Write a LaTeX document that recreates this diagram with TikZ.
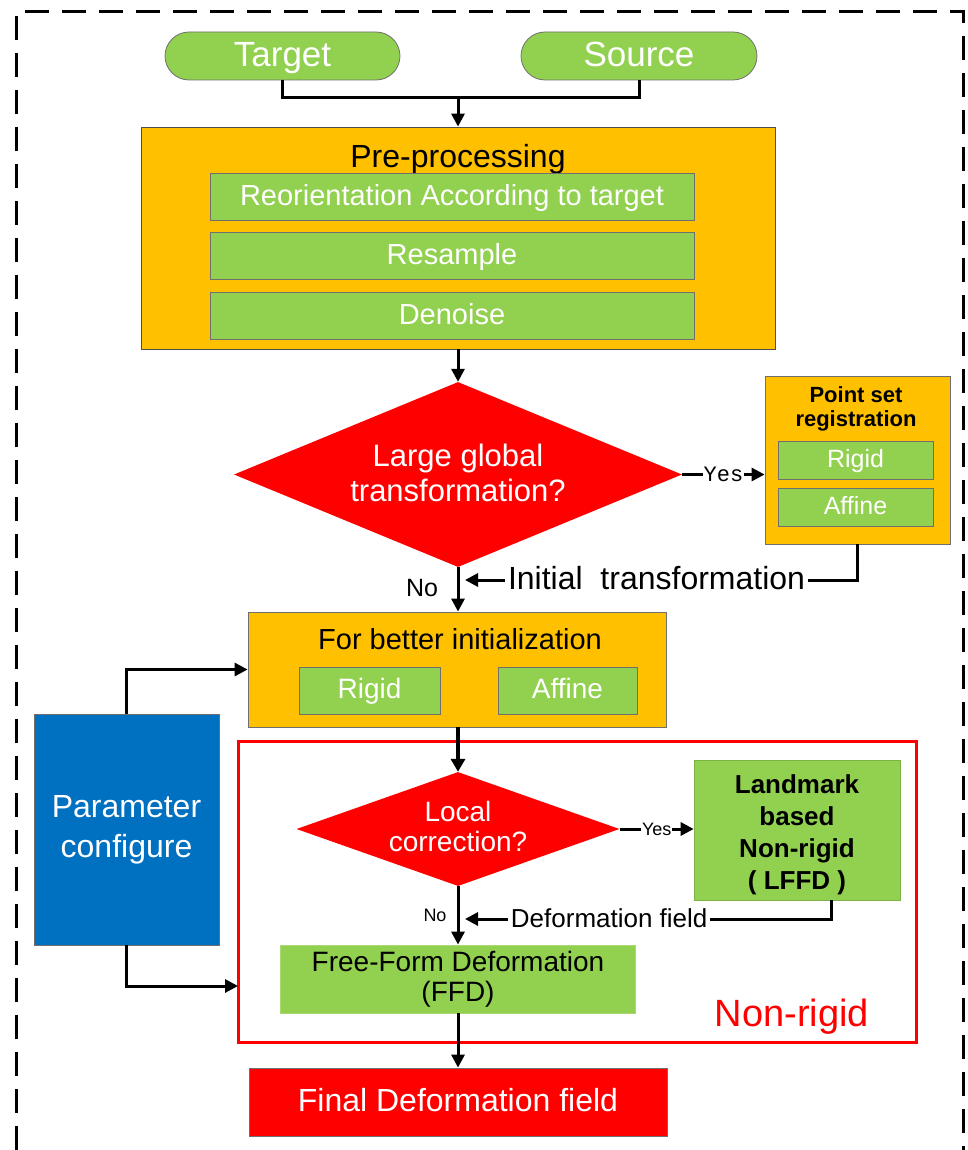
\documentclass[tikz,border=0pt]{standalone}
\usepackage{fontspec}
\setmainfont{Liberation Sans}
\newfontfamily\monofont{Liberation Mono}
\usetikzlibrary{arrows.meta,shapes.geometric,calc}
\definecolor{fgreen}{HTML}{92D050}
\definecolor{forange}{HTML}{FFC000}
\definecolor{fred}{HTML}{FF0000}
\definecolor{fblue}{HTML}{0070C0}
\definecolor{fgray}{HTML}{6F6F6F}
\newcommand\fs[2]{\fontsize{#1}{#2}\selectfont}
\tikzset{
  box/.style={draw=fgray, line width=0.8pt, inner sep=0pt, align=center},
  gbox/.style={box, fill=fgreen, text=white},
  obox/.style={box, fill=forange},
  sl/.style 2 args={text height=#1pt, text depth=#2pt},
  dia/.style={diamond, fill=fred, draw=none, inner sep=0pt},
  conn/.style={line width=3pt, -{Triangle[length=13pt,width=13pt]}},
  plain/.style={line width=3pt},
  lbl/.style={inner sep=0pt, align=center},
}
\begin{document}
\begin{tikzpicture}[x=1pt,y=-1pt]
\useasboundingbox (0,0) rectangle (967,1150);
% outer dashed frame
\draw[line width=3pt, dash pattern=on 24pt off 13pt] (16,1150) -- (16,12) -- (963,12) -- (963,1150);

% inputs
\node[gbox, sl={25}{4}, rounded corners=24pt, minimum width=235pt, minimum height=48pt, font=\fs{35}{40}] (target) at (282.5,56) {Target};
\node[gbox, sl={25}{4}, rounded corners=24pt, minimum width=236pt, minimum height=48pt, font=\fs{35}{40}] (source) at (639,56) {Source};
\coordinate (m) at (458,97);
\draw[plain] (target.south) -- ++(0,17) -| (source.south);

% preprocessing
\node[obox, draw=fgray!70!black, minimum width=634pt, minimum height=222pt] (pre) at (458,238) {};
\draw[conn] (m) -- (pre.north);
\node[lbl, sl={23}{4}, font=\fs{32}{36}] (pret) at (458,158) {Pre-processing};
\node[gbox, sl={21}{3.5}, minimum width=484pt, minimum height=47pt, font=\fs{29}{33}] (reo) at (452,196.5) {Reorientation According to target};
\node[gbox, sl={21}{3.5}, minimum width=484pt, minimum height=47pt, font=\fs{29}{33}] (res) at (452,256) {Resample};
\node[gbox, sl={21}{3.5}, minimum width=484pt, minimum height=47pt, font=\fs{29}{33}] (den) at (452,316) {Denoise};

% diamond 1
\node[dia, minimum width=448pt, minimum height=185pt] (d1) at (458,474.5) {};
\node[lbl, text=white, font=\fs{31}{35}] (d1t) at (458,473) {Large global\\transformation?};
\draw[conn] (pre.south) -- (d1.north);

% point set registration
\node[obox, minimum width=185pt, minimum height=168pt] (psr) at (857.5,460) {};
\node[lbl, font=\bfseries\fs{22}{24}] (psrt) at (856,409) {Point set\\registration};
\node[gbox, sl={18}{3}, minimum width=155pt, minimum height=38pt, font=\fs{25}{28}] (psr1) at (855.5,460) {Rigid};
\node[gbox, sl={18}{3}, minimum width=155pt, minimum height=38pt, font=\fs{25}{28}] (psr2) at (855.5,507) {Affine};
\draw[conn] (d1.east) -- node[fill=white, inner sep=1pt, font=\monofont\fs{22}{24}] (yes1) {Yes} (d1.east -| psr.west);

% for better initialization
\node[obox, minimum width=418pt, minimum height=115pt] (fbi) at (457,669.5) {};
\node[lbl, sl={21}{3.5}, font=\fs{29}{33}] (fbit) at (460,641) {For better initialization};
\node[gbox, sl={20}{3.5}, minimum width=141pt, minimum height=47pt, font=\fs{28}{32}] (fbi1) at (369.5,690.5) {Rigid};
\node[gbox, sl={20}{3.5}, minimum width=139pt, minimum height=47pt, font=\fs{28}{32}] (fbi2) at (567.5,690.5) {Affine};
\draw[conn] (d1.south) -- (d1.south |- fbi.north);
\node[lbl, font=\fs{25}{28}] (no1) at (422,588) {No};
\coordinate (j1) at (465,580);
\draw[conn] (psr.south) |- node[pos=0.756, fill=white, inner xsep=3pt, inner ysep=1pt, sl={23}{4}, font=\fs{32}{36}] (itr) {Initial\ \ transformation} (j1);

% parameter configure
\node[box, fill=fblue, text=white, minimum width=185pt, minimum height=231pt, font=\fs{32}{40}] (param) at (126.5,829.5) {Parameter\\configure};
\draw[conn] (param.north) |- (fbi.west);

% non-rigid frame
\node[draw=fred, line width=3pt, minimum width=678pt, minimum height=301pt, inner sep=0pt] (nonrigid) at (577,891.5) {};
\node[lbl, text=fred, font=\fs{38}{42}] (nrl) at (792,1017) {Non-rigid};
\coordinate (j3) at (238,986);
\draw[conn] (param.south) |- (j3);

% diamond 2
\node[dia, minimum width=323pt, minimum height=114pt] (d2) at (458,829) {};
\node[lbl, text=white, font=\fs{28}{30}] (d2t) at (458,826) {Local\\correction?};
\draw[line width=4pt, -{Triangle[length=13pt,width=14pt]}] (d2.north |- fbi.south) -- (d2.north);

% LFFD
\node[box, fill=fgreen, draw=fgreen!85!black, line width=0.6pt, minimum width=206pt, minimum height=140pt] (lffd) at (797,830) {};
\node[lbl, font=\bfseries\fs{26}{32}] (lffdt) at (797,835) {Landmark\\based\\Non-rigid\\( LFFD )};
\draw[conn] (d2.east) -- node[fill=white, inner sep=1pt, font=\fs{18}{20}] (yes2) {Yes} (d2.east -| lffd.west);

% FFD
\node[box, fill=fgreen, draw=fgreen!80!white, minimum width=355pt, minimum height=68pt, font=\fs{28}{30}] (ffd) at (458,979) {Free-Form Deformation\\(FFD)};
\draw[conn] (d2.south) -- (d2.south |- ffd.north);
\node[lbl, font=\fs{18}{20}] (no2) at (435,915) {No};
\coordinate (j2) at (465,919);
\draw[conn] ([xshift=34pt]lffd.south) |- node[pos=0.803, fill=white, inner xsep=3pt, inner ysep=1pt, sl={19}{3}, font=\fs{26}{28}] (dfl) {Deformation field} (j2);

% final
\node[box, sl={23}{4}, fill=fred, text=white, minimum width=418pt, minimum height=68pt, font=\fs{32}{36}] (final) at (458,1102) {Final Deformation field};
\draw[conn] (ffd.south) -- (final.north);
\end{tikzpicture}
\end{document}
